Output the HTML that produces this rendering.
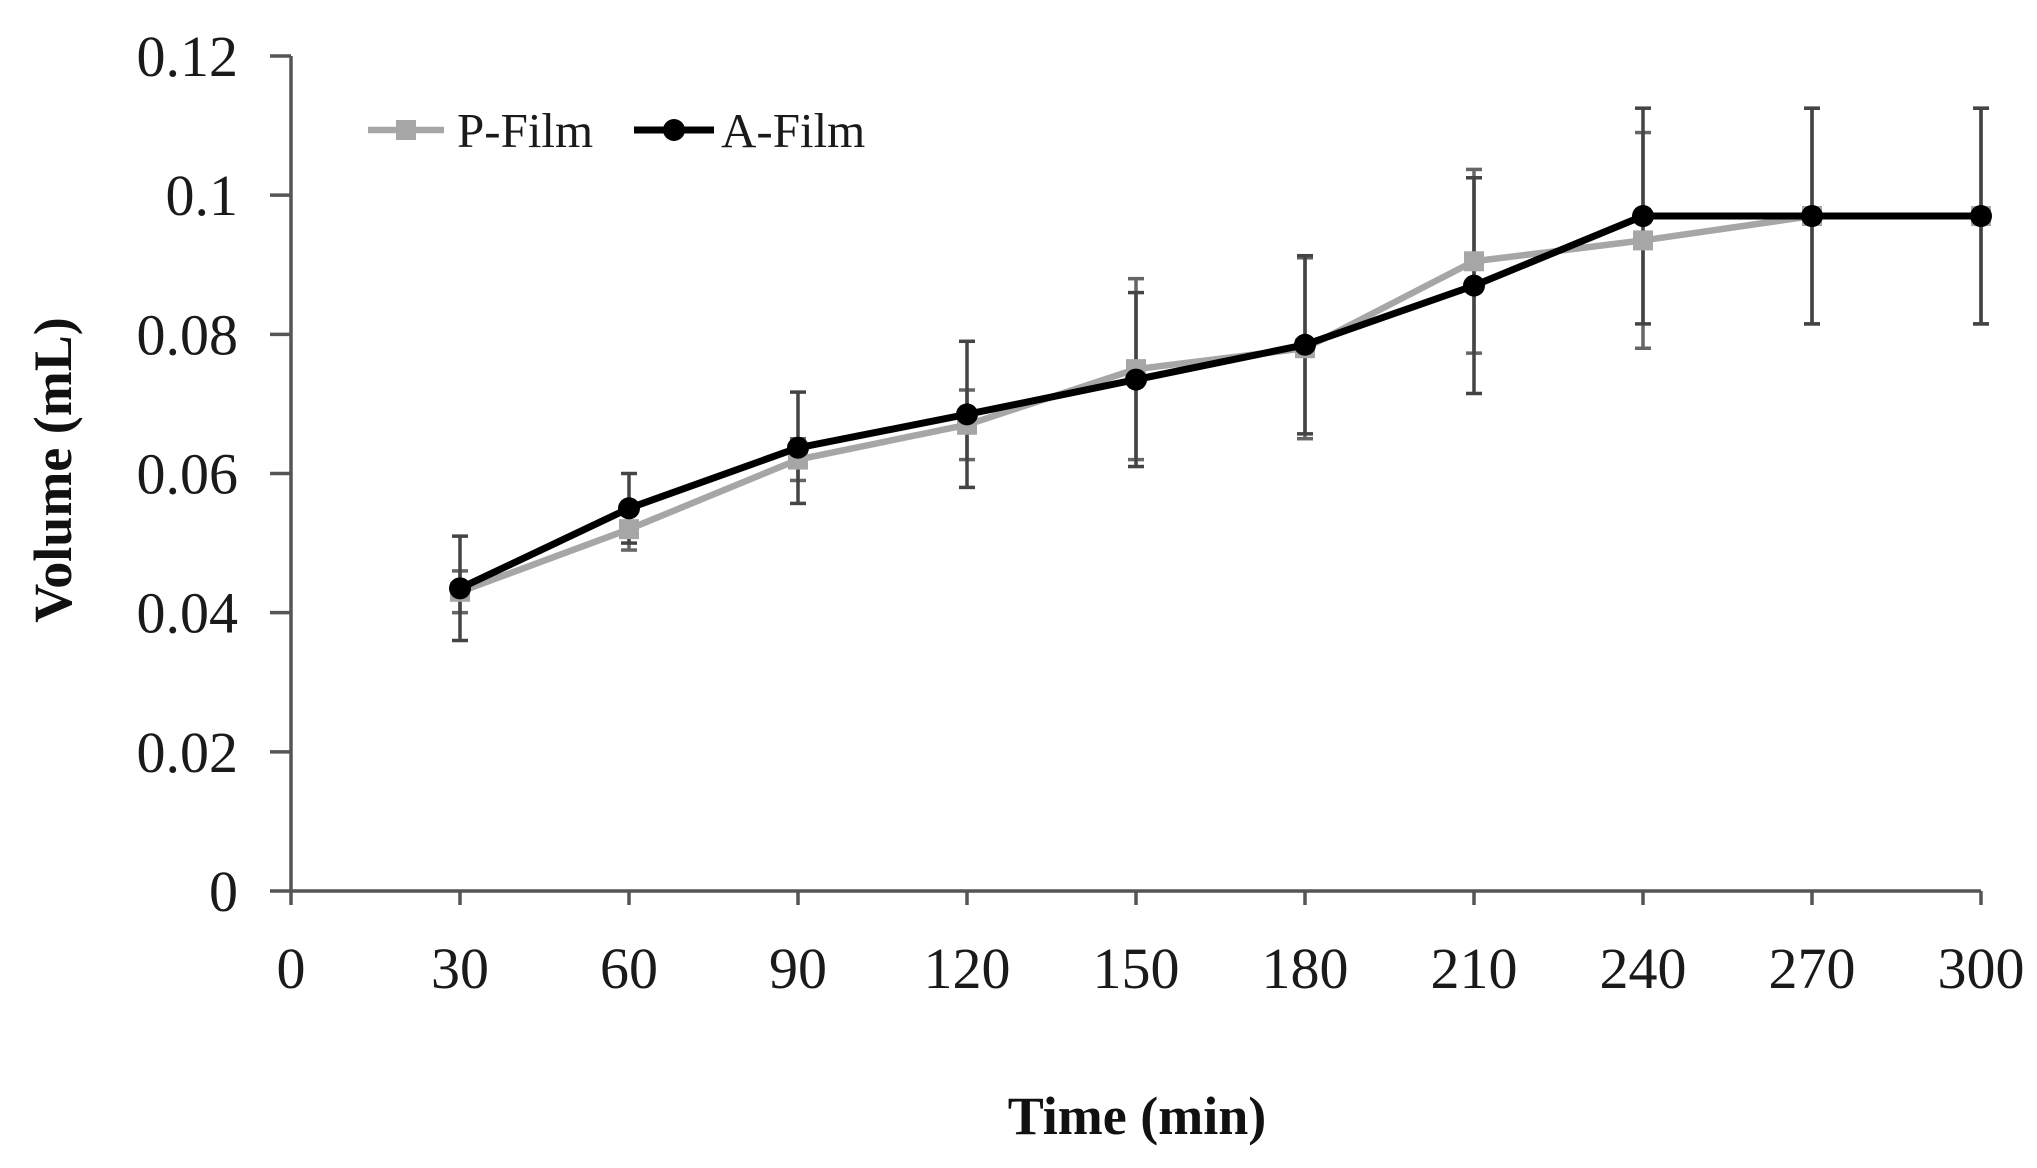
<!DOCTYPE html>
<html><head><meta charset="utf-8"><style>
html,body{margin:0;padding:0;background:#fff;}
svg{display:block;font-family:"Liberation Serif",serif;}
</style></head><body>
<svg id="chart" width="2037" height="1168" viewBox="0 0 2037 1168" xmlns="http://www.w3.org/2000/svg"></svg>
<script>
const xCats = [30,60,90,120,150,180,210,240,270,300];
const pFilm = [0.043,0.052,0.062,0.067,0.075,0.078,0.0905,0.0935,0.097,0.097];
const pErr = [0.003,0.003,0.003,0.005,0.013,0.013,0.0132,0.0155,0.0155,0.0155];
const aFilm = [0.0435,0.055,0.0637,0.0685,0.0735,0.0785,0.087,0.097,0.097,0.097];
const aErr = [0.0075,0.005,0.008,0.0105,0.0125,0.0128,0.0155,0.0155,0.0155,0.0155];
const xTicks = [0,30,60,90,120,150,180,210,240,270,300];
const yTicks = [0,0.02,0.04,0.06,0.08,0.1,0.12];
const yTickLabels = ["0","0.02","0.04","0.06","0.08","0.1","0.12"];

const svg = document.getElementById('chart');
const NS = 'http://www.w3.org/2000/svg';
const X0=291, X1=1981, Y0=891, Y1=56;
const xs = v => X0 + (v-0)/(300-0)*(X1-X0);
const ys = v => Y0 - (v-0)/(0.12-0)*(Y0-Y1);
function mk(tag, attrs, parent){const e=document.createElementNS(NS,tag);for(const k in attrs)e.setAttribute(k,attrs[k]);(parent||svg).appendChild(e);return e;}

let ax = mk('line',{x1:X0,y1:Y1,x2:X0,y2:Y0,stroke:'#555','stroke-width':3.5});


ax = mk('line',{x1:X0,y1:Y0,x2:X1,y2:Y0,stroke:'#555','stroke-width':3.5});



yTicks.forEach((t,i)=>{
  const y=ys(t);
  const tk=mk('line',{x1:X0-21,y1:y,x2:X0,y2:y,stroke:'#555','stroke-width':3.5});
  
  
  const tx=mk('text',{x:238,y:y+20,'text-anchor':'end','font-size':58,fill:'#1a1a1a'});
  tx.textContent=yTickLabels[i];
  
  
});
xTicks.forEach(t=>{
  const x=xs(t);
  const tk=mk('line',{x1:x,y1:Y0,x2:x,y2:Y0+14,stroke:'#555','stroke-width':3.5});
  
  
  const tx=mk('text',{x:x,y:988,'text-anchor':'middle','font-size':58,fill:'#1a1a1a'});
  tx.textContent=String(t);
  
  
});

let tt=mk('text',{x:1137,y:1134,'text-anchor':'middle','font-size':54,'font-weight':'bold',fill:'#111'});
tt.textContent='Time (min)';


tt=mk('text',{x:0,y:0,'text-anchor':'middle','font-size':54,'font-weight':'bold',fill:'#111',transform:'translate(71,470) rotate(-90)'});
tt.textContent='Volume (mL)';



function errbars(vals, errs, color, name){
  vals.forEach((v,i)=>{
    const x=xs(xCats[i]);
    const g=mk('g',{stroke:color,'stroke-width':3.5});
    
    
    mk('line',{x1:x,y1:ys(v+errs[i]),x2:x,y2:ys(v-errs[i])},g);
    mk('line',{x1:x-8,y1:ys(v+errs[i]),x2:x+8,y2:ys(v+errs[i])},g);
    mk('line',{x1:x-8,y1:ys(v-errs[i]),x2:x+8,y2:ys(v-errs[i])},g);
  });
}
errbars(pFilm,pErr,'#666','p-film-error-bar');
errbars(aFilm,aErr,'#444','a-film-error-bar');

function series(vals,color,width,marker,name){
  const pts=vals.map((v,i)=>xs(xCats[i])+','+ys(v)).join(' ');
  const l=mk('polyline',{points:pts,fill:'none',stroke:color,'stroke-width':width,'stroke-linejoin':'round'});
  
  
  vals.forEach((v,i)=>{
    const x=xs(xCats[i]),y=ys(v);
    let m;
    if(marker==='square') m=mk('rect',{x:x-10,y:y-10,width:20,height:20,fill:color});
    else m=mk('circle',{cx:x,cy:y,r:11,fill:color});
    
    
  });
}
series(pFilm,'#a6a6a6',6.5,'square','p-film');
series(aFilm,'#000',7,'circle','a-film');

const lg=mk('g',{});


const e1=mk('g',{},lg);


mk('line',{x1:368,y1:130,x2:444,y2:130,stroke:'#a6a6a6','stroke-width':6.5},e1);
mk('rect',{x:396,y:120,width:20,height:20,fill:'#a6a6a6'},e1);
let lt=mk('text',{x:457,y:147,'font-size':49,fill:'#1a1a1a'},e1);lt.textContent='P-Film';
const e2=mk('g',{},lg);


mk('line',{x1:634,y1:130,x2:714,y2:130,stroke:'#000','stroke-width':7},e2);
mk('circle',{cx:674,cy:130,r:11,fill:'#000'},e2);
lt=mk('text',{x:721,y:147,'font-size':49,fill:'#1a1a1a'},e2);lt.textContent='A-Film';
</script>
</body></html>
